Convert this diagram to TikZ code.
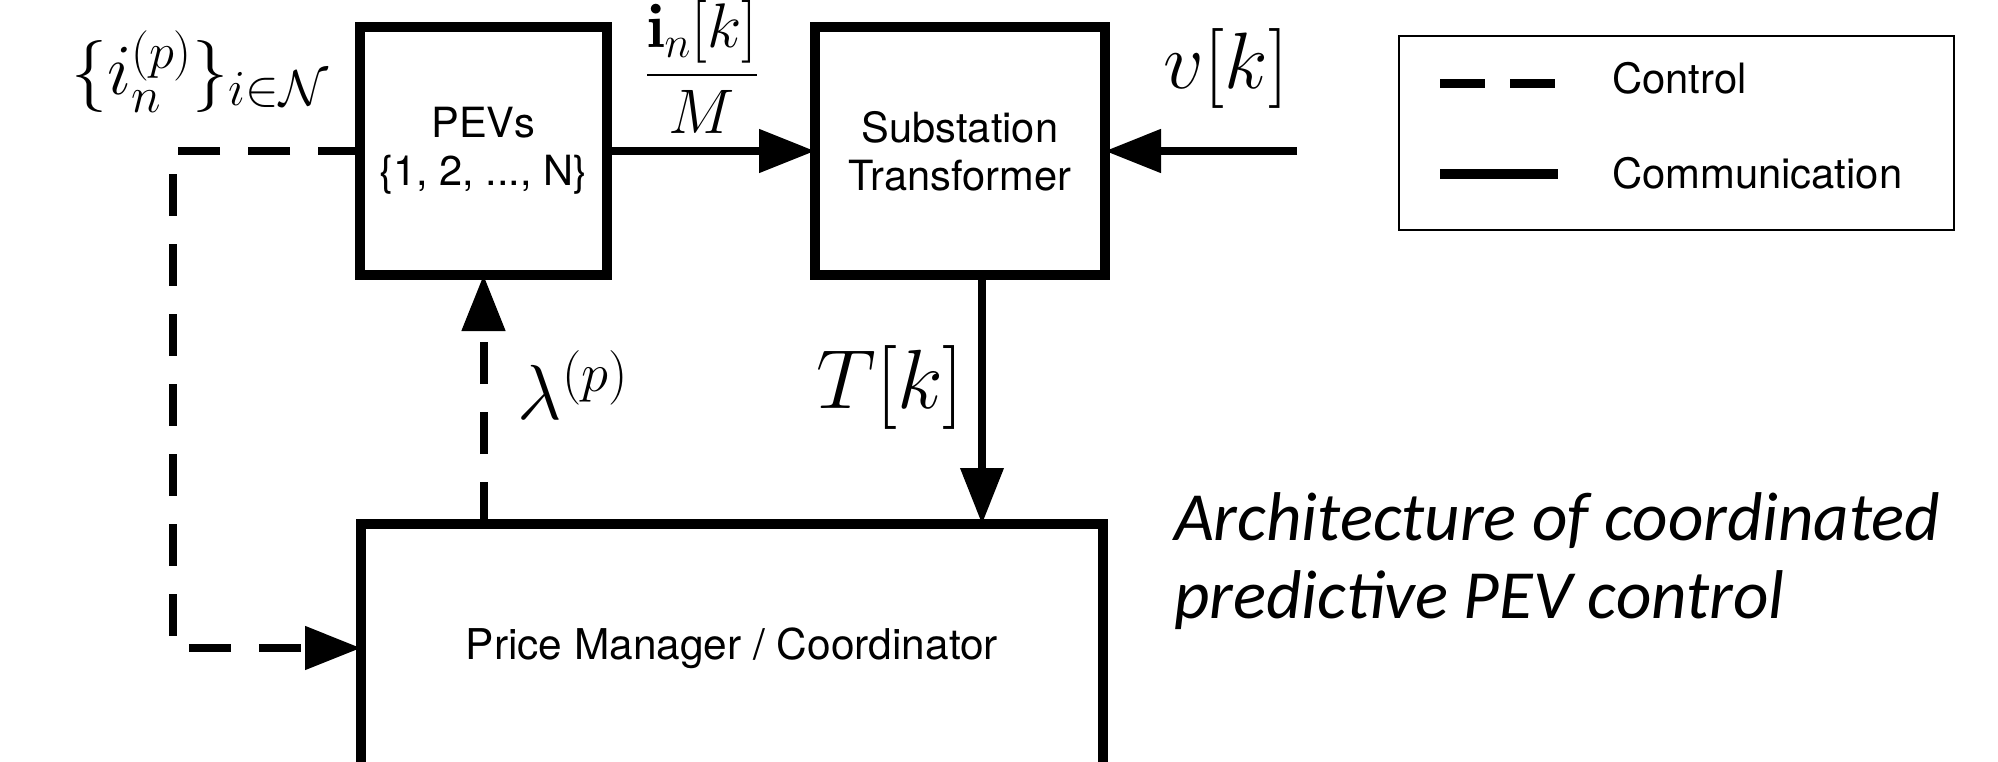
\RequirePackage{fix-cm}
\documentclass[tikz,border=0pt]{standalone}
\usepackage{amsmath}
\usepackage{fontspec}
\newfontfamily\helv{TeX Gyre Heros}
\newfontfamily\capfont{Carlito}
\usetikzlibrary{arrows.meta}
\begin{document}
\begin{tikzpicture}[x=0.5pt,y=-0.5pt,
  box/.style={draw, line width=5pt, inner sep=0pt, outer sep=0pt, align=center,
    font=\helv\fontsize{20.8}{24}\selectfont},
  comm/.style={line width=4pt},
  ctrl/.style={line width=4pt, dash pattern=on 21pt off 14pt},
  tip/.style={-{Triangle[length=28pt,width=21pt]}},
  lbl/.style={inner sep=0pt, outer sep=0pt},
  legtext/.style={lbl, anchor=base west, font=\helv\fontsize{20.9}{24}\selectfont},
]
\useasboundingbox (0,0) rectangle (1998,761);
\clip (0,0) rectangle (1998,761);

% blocks
\node[box, minimum width=123.5pt, minimum height=124pt] (pevs) at (483.5,151) {PEVs\\\{1, 2, ..., N\}};
\node[box, minimum width=145pt, minimum height=124pt] (sub) at (960,151) {Substation\\Transformer};
\node[box, minimum width=371pt, minimum height=124pt, font=\helv\fontsize{21.2}{24}\selectfont] (pm) at (732,648) {Price Manager / Coordinator};

% connectors
\draw[comm, tip] (pevs.east) -- (sub.west);
\coordinate (vin) at (1297,151);
\draw[comm, tip] (vin) -- (sub.east);
\coordinate (tx) at (982,0);
\draw[comm, tip, line width=3.6pt] (sub.south -| tx) -- (pm.north -| tx);
\draw[ctrl, tip] (pm.north -| pevs.south) -- (pevs.south);
\coordinate (c1) at (173,151);
\coordinate (c2) at (173,648);
\draw[ctrl, tip] (pevs.west) -- (c1) -- (c2) -- (pm.west);

% labels
\node[lbl, font=\fontsize{36}{42}\selectfont] (lset) at (200,72) {$\{i_n^{(p)}\}_{i\in\mathcal{N}}$};
\node[lbl, font=\fontsize{31.5}{36}\selectfont] (frac) at (702,67) {$\dfrac{\mathbf{i}_n[k]}{M}$};
\node[lbl, font=\fontsize{40}{46}\selectfont] (vk) at (1226,68) {$v[k]$};
\node[lbl, font=\fontsize{39}{44}\selectfont] (lam) at (573,385) {$\lambda^{(p)}$};
\node[lbl, font=\fontsize{42}{48}\selectfont] (tk) at (890,387) {$T[k]$};

% legend
\node[draw, line width=1pt, inner sep=0pt, outer sep=0pt, minimum width=277.5pt, minimum height=97pt] (legend) at (1676.5,133) {};
\coordinate (la1) at (1440,83);
\coordinate (la2) at (1555,83);
\draw[line width=4.5pt, dash pattern=on 22.5pt off 12.5pt] (la1) -- (la2);
\coordinate (lb1) at (1440,174);
\coordinate (lb2) at (1558,174);
\draw[line width=5pt] (lb1) -- (lb2);
\node[legtext] (lctrl) at (1612,93) {Control};
\node[legtext] (lcomm) at (1612,188) {Communication};

% caption (base anchor = baseline of last line)
\node[lbl, anchor=base west, align=left, font=\capfont\itshape\fontsize{34.5}{39}\selectfont] (cap) at (1174,618) {Architecture of coordinated\\predictive PEV control};
\end{tikzpicture}
\end{document}
